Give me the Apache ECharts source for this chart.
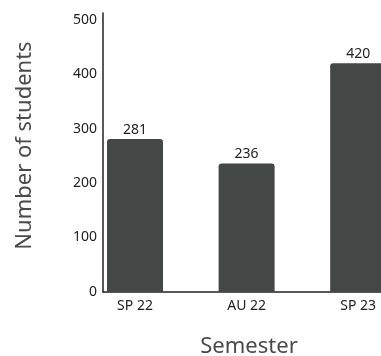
<!DOCTYPE html>
<html>
<head>
<meta charset="utf-8">
<script src="https://cdn.jsdelivr.net/npm/echarts@6/dist/echarts.min.js"></script>
<style>
  html, body { margin: 0; padding: 0; background: #ffffff; }
  #chart { width: 381px; height: 356px; }
</style>
</head>
<body>
<div id="chart"></div>
<script>
// Enrolment per semester
const semesters = ['SP 22', 'AU 22', 'SP 23'];
const students = [281, 236, 420];
const yTicks = [0, 100, 200, 300, 400, 500];

const FONT = 'Noto Sans';
const chart = echarts.init(document.getElementById('chart'), null, { renderer: 'canvas' });

// Bars sit on a numeric index axis so the plot can start a little left of the first bar
const barData = students.map((v, i) => [i, v]);

chart.setOption({
  animation: false,
  textStyle: { fontFamily: FONT },
  grid: { left: 103, right: -14, top: 13, bottom: 64, containLabel: false, outerBoundsMode: 'none' },
  xAxis: {
    type: 'value',
    min: -0.287,
    max: 2.33,
    name: 'Semester',
    nameLocation: 'middle',
    nameGap: 44,
    nameTextStyle: { fontFamily: FONT, fontSize: 22, color: '#4a4a4a' },
    splitLine: { show: false },
    axisLine: { show: true, onZero: false, lineStyle: { color: '#222', width: 1.5 } },
    axisTick: { show: false },
    axisLabel: {
      customValues: semesters.map((_, i) => i),
      formatter: v => semesters[Math.round(v)] || '',
      fontFamily: FONT, fontSize: 14, color: '#222', margin: 7
    }
  },
  yAxis: {
    type: 'value',
    min: 0,
    max: 512,
    name: 'Number of students',
    nameLocation: 'middle',
    nameGap: 67,
    nameTextStyle: { fontFamily: FONT, fontSize: 22, color: '#4a4a4a', padding: [0, 0, 0, 14] },
    splitLine: { show: false },
    axisLine: { show: true, onZero: false, lineStyle: { color: '#222', width: 1.5 } },
    axisTick: { show: false },
    axisLabel: {
      customValues: yTicks,
      fontFamily: FONT, fontSize: 14, color: '#222', margin: 6
    }
  },
  series: [{
    type: 'bar',
    data: barData,
    barWidth: 56,
    itemStyle: { color: '#434746', borderRadius: [3, 3, 0, 0] },
    label: {
      show: true,
      position: 'top',
      distance: 2,
      formatter: p => p.value[1],
      fontFamily: FONT, fontSize: 14, color: '#222'
    }
  }]
});
</script>
</body>
</html>
